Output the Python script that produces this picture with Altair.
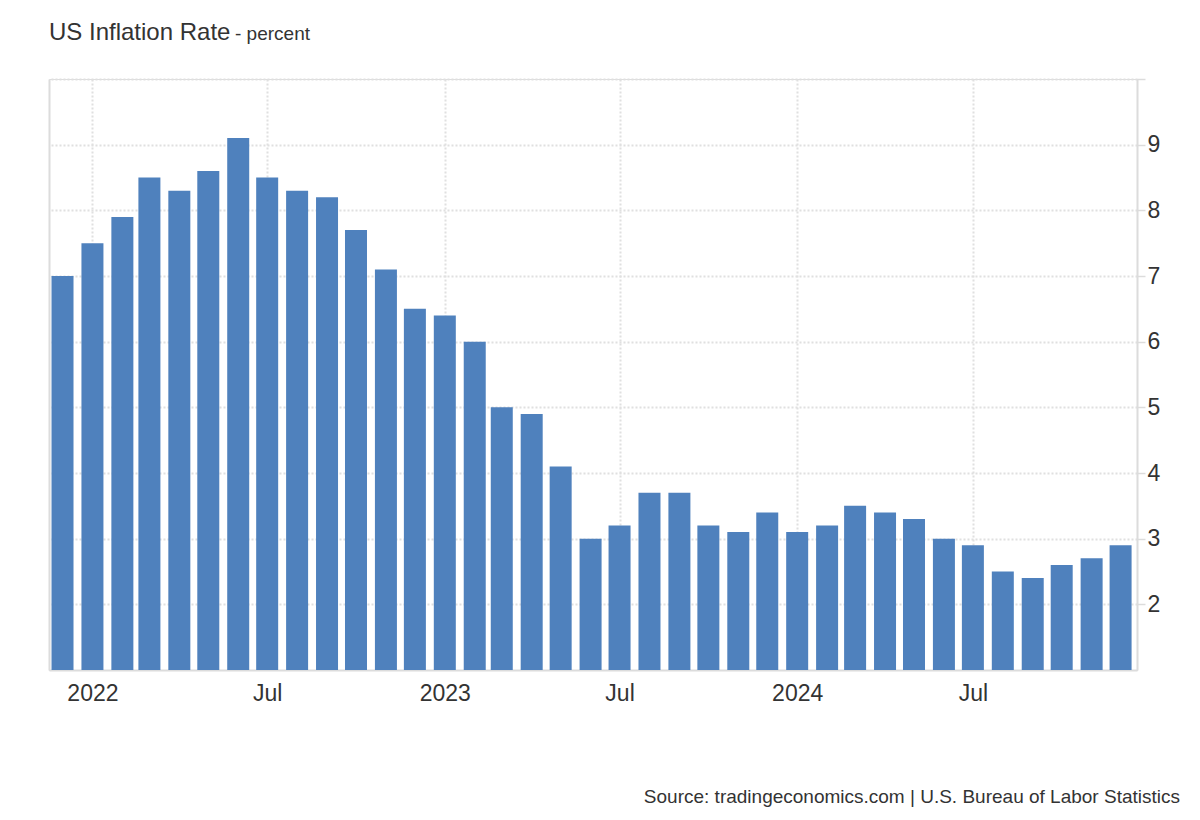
import altair as alt
import pandas as pd

months = [
    "2021-12-01",
    "2022-01-01", "2022-02-01", "2022-03-01", "2022-04-01", "2022-05-01", "2022-06-01",
    "2022-07-01", "2022-08-01", "2022-09-01", "2022-10-01", "2022-11-01", "2022-12-01",
    "2023-01-01", "2023-02-01", "2023-03-01", "2023-04-01", "2023-05-01", "2023-06-01",
    "2023-07-01", "2023-08-01", "2023-09-01", "2023-10-01", "2023-11-01", "2023-12-01",
    "2024-01-01", "2024-02-01", "2024-03-01", "2024-04-01", "2024-05-01", "2024-06-01",
    "2024-07-01", "2024-08-01", "2024-09-01", "2024-10-01", "2024-11-01", "2024-12-01",
]
inflation = [
    7.0,
    7.5, 7.9, 8.5, 8.3, 8.6, 9.1, 8.5, 8.3, 8.2, 7.7, 7.1, 6.5,
    6.4, 6.0, 5.0, 4.9, 4.1, 3.0, 3.2, 3.7, 3.7, 3.2, 3.1, 3.4,
    3.1, 3.2, 3.5, 3.4, 3.3, 3.0, 2.9, 2.5, 2.4, 2.6, 2.7, 2.9,
]
x_ticks = ["2022-01-01", "2022-07-01", "2023-01-01", "2023-07-01", "2024-01-01", "2024-07-01"]
y_ticks = [2, 3, 4, 5, 6, 7, 8, 9, 10]
y_base = 1
title_text = ["US Inflation Rate"]
unit_text = ["- percent"]
source_text = ["Source: tradingeconomics.com | U.S. Bureau of Labor Statistics"]

df = pd.DataFrame({"date": months, "value": inflation})

W, H = 1088, 591
FONT = "Liberation Sans"
TXT = "#333333"
GRID = "#e0e0e0"
DOMAIN = "#dcdcdc"

def dt(s):
    y, m, d = [int(p) for p in s.split("-")]
    return alt.DateTime(year=y, month=m, date=d, utc=True)

x_scale = alt.Scale(type="utc", domain=[dt("2021-11-17"), dt("2024-12-18")], nice=False, padding=0)
y_scale = alt.Scale(domain=[1, 10], nice=False, zero=False, padding=0)

x_axis = alt.Axis(
    title=None,
    values=[dt(s) for s in x_ticks],
    labelExpr="utcFormat(datum.value, '%m') == '01' ? utcFormat(datum.value, '%Y') : utcFormat(datum.value, '%b')",
    ticks=False,
    labelPadding=12,
    labelFontSize=23,
    labelColor=TXT,
    labelFont=FONT,
    domainColor=DOMAIN,
    domainWidth=2,
    grid=True,
    gridColor=GRID,
    gridDash=[2, 2],
    gridWidth=2,
)

bars = alt.Chart(df).mark_bar(size=22, color="#4f81bd").encode(
    x=alt.X("date:T", scale=x_scale, axis=x_axis),
    y=alt.Y(
        "value:Q",
        scale=y_scale,
        axis=alt.Axis(
            title=None,
            orient="right",
            values=y_ticks,
            labelExpr="datum.value >= 10 ? '' : datum.label",
            tickSize=8,
            tickColor=DOMAIN,
            tickWidth=1.5,
            labelPadding=2,
            labelFontSize=23,
            labelColor=TXT,
            labelFont=FONT,
            domainColor=DOMAIN,
            domainWidth=2,
            grid=True,
            gridColor=GRID,
            gridDash=[2, 2],
            gridWidth=2,
        ),
    ),
    y2=alt.datum(y_base),
)

left_edge = alt.Chart(df).mark_bar(size=22, opacity=0).encode(
    x=alt.X("date:T", scale=x_scale, axis=x_axis),
    y=alt.Y(
        "value:Q",
        scale=y_scale,
        axis=alt.Axis(
            title=None, orient="left", labels=False, ticks=False, grid=False,
            domainColor=DOMAIN, domainWidth=2,
        ),
    ),
    y2=alt.datum(y_base),
)

title = alt.Chart(pd.DataFrame({"t": title_text})).mark_text(
    align="left", baseline="alphabetic", fontSize=24, font=FONT, color=TXT
).encode(text="t:N", x=alt.value(0), y=alt.value(-39))

unit = alt.Chart(pd.DataFrame({"t": unit_text})).mark_text(
    align="left", baseline="alphabetic", fontSize=19, font=FONT, color=TXT
).encode(text="t:N", x=alt.value(186), y=alt.value(-39))

source = alt.Chart(pd.DataFrame({"t": source_text})).mark_text(
    align="right", baseline="alphabetic", fontSize=19, font=FONT, color=TXT
).encode(text="t:N", x=alt.value(1131), y=alt.value(724))

chart = alt.layer(bars, left_edge, title, unit, source).resolve_scale(
    y="independent"
).properties(
    width=W,
    height=H,
    autosize=alt.AutoSizeParams(type="none"),
    padding={"left": 41, "top": 71, "right": 55, "bottom": 140},
).configure_view(stroke=None).configure(background="white")

chart.save("out.html", embed_options={"renderer": "svg", "actions": False})
